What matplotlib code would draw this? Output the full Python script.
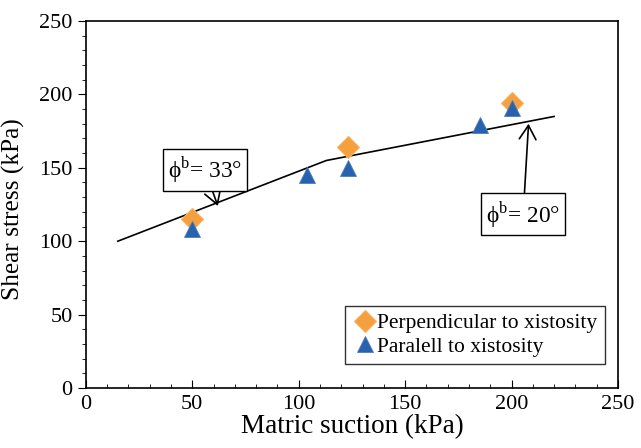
import matplotlib.pyplot as plt
from matplotlib.ticker import MultipleLocator

plt.rcParams['font.family'] = ['Liberation Serif', 'DejaVu Serif']
plt.rcParams['mathtext.fontset'] = 'custom'
plt.rcParams['mathtext.rm'] = 'Liberation Serif'

# perpendicular to xistosity
perp_x = [50, 123, 200]
perp_y = [115, 164, 194]
# paralell to xistosity
par_x = [50, 104, 123, 185, 200]
par_y = [108, 145, 150, 179, 191]
# bilinear fit line
fit_x = [15, 113, 220]
fit_y = [100, 155, 185]

fig = plt.figure(figsize=(6.41, 4.48), dpi=100)
ax = fig.add_axes([0.134, 0.134, 0.830, 0.819])

ax.plot(fit_x, fit_y, color='black', lw=1.2, zorder=2)
ax.plot(perp_x, perp_y, 'D', color='#F5A03F', mec='#F8B25F', mew=0.8,
        markersize=11, label='Perpendicular to xistosity', zorder=3)
ax.plot(par_x, par_y, '^', color='#2861AE', mec='#4A7DC0', mew=0.6,
        markersize=12, label='Paralell to xistosity', zorder=4)

box = dict(boxstyle='square,pad=0.22', fc='white', ec='black', lw=1)
arrow = dict(arrowstyle='->,head_length=0.5,head_width=0.3', color='black',
             lw=1.2, mutation_scale=20, shrinkA=0, shrinkB=0)
ax.annotate('ϕ$^{\\mathrm{b}}$= 33°', xy=(62, 124), xytext=(56, 148.5),
            ha='center', va='center', fontsize=16.8, bbox=box, arrowprops=arrow)
ax.annotate('ϕ$^{\\mathrm{b}}$= 20°', xy=(208, 180), xytext=(205.5, 118.5),
            ha='center', va='center', fontsize=16.8, bbox=box, arrowprops=arrow)

ax.set_xlim(0, 250)
ax.set_ylim(0, 250)
ax.xaxis.set_major_locator(MultipleLocator(50))
ax.xaxis.set_minor_locator(MultipleLocator(10))
ax.yaxis.set_major_locator(MultipleLocator(50))
ax.yaxis.set_minor_locator(MultipleLocator(10))
ax.tick_params(axis='x', which='both', direction='in', labelsize=16, pad=5)
ax.tick_params(axis='x', which='major', length=6)
ax.tick_params(axis='x', which='minor', length=3)
ax.tick_params(axis='y', which='both', direction='out', labelsize=16)
ax.tick_params(axis='y', which='major', length=6)
ax.tick_params(axis='y', which='minor', length=3)
for s in ax.spines.values():
    s.set_linewidth(1.2)

ax.set_xlabel('Matric suction (kPa)', fontsize=19.5, labelpad=0)
ax.set_ylabel('Shear stress (kPa)', fontsize=18.3, labelpad=0)
ax.yaxis.set_label_coords(-0.115, 0.487)

leg = ax.legend(loc='lower right', fontsize=15.5, frameon=True, fancybox=False,
                edgecolor='black', handletextpad=0.05, handlelength=1.1,
                borderpad=0.35, labelspacing=0.15, borderaxespad=0,
                bbox_to_anchor=(0.976, 0.065))
leg.get_frame().set_linewidth(1)

fig.savefig('out.png', dpi=100)
